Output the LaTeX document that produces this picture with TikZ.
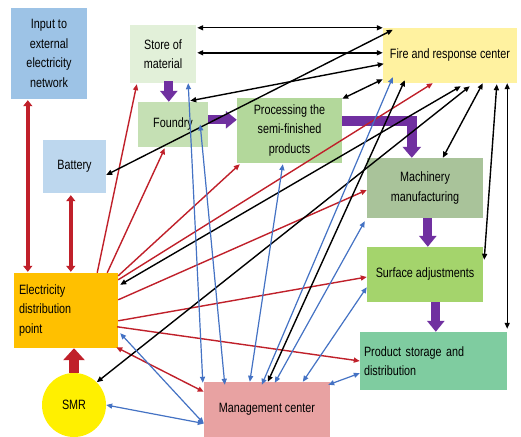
\documentclass[tikz,border=0pt]{standalone}
\usepackage{fontspec}
\setmainfont[FakeStretch=0.8]{Liberation Sans}
\usetikzlibrary{arrows.meta,calc}
\definecolor{cInp}{HTML}{9DC3E6}
\definecolor{cBat}{HTML}{BDD7EE}
\definecolor{cStore}{HTML}{E2F0D9}
\definecolor{cFound}{HTML}{C5E0B4}
\definecolor{cProc}{HTML}{B3D89B}
\definecolor{cFire}{HTML}{FFF2A0}
\definecolor{cMach}{HTML}{A9C39A}
\definecolor{cSurf}{HTML}{A4D46C}
\definecolor{cProd}{HTML}{7FCCA0}
\definecolor{cElec}{HTML}{FFC000}
\definecolor{cSmr}{HTML}{FFF000}
\definecolor{cMgmt}{HTML}{E8A2A2}
\definecolor{cPurp}{HTML}{7030A0}
\definecolor{cRed}{HTML}{C0202A}
\definecolor{cBlue}{HTML}{4472C4}
\tikzset{
  box/.style={inner sep=0pt, align=center, font=\fontsize{13.5}{19.5}\selectfont},
  lbox/.style={inner sep=0pt, align=left, font=\fontsize{13.5}{19.5}\selectfont},
  tip/.tip={Triangle[length=6pt,width=5pt]},
  redln/.style={draw=cRed, line width=1.4pt},
  blkln/.style={draw=black, line width=1.4pt},
  bluln/.style={draw=cBlue, line width=1.2pt},
  thickred/.style={draw=cRed, line width=3.5pt},
  bigtip/.tip={Triangle[length=6pt,width=9pt]},
  purp/.style={draw=cPurp, line width=9pt, -{Triangle[length=11pt,width=17pt]}},
}
\begin{document}
\begin{tikzpicture}[x=1pt,y=-1pt]
\useasboundingbox[fill=white] (0,0) rectangle (521,436);
% nodes
\node[box, fill=cInp, minimum width=76pt, minimum height=91pt] (inp) at (49,53.5) {Input to\\external\\electricity\\network};
\node[box, fill=cStore, minimum width=66pt, minimum height=58pt] (store) at (163,54) {Store of\\material};
\node[box, fill=cFound, minimum width=70pt, minimum height=45pt] (foundry) at (173,124.5) {Foundry};
\node[box, fill=cProc, minimum width=105pt, minimum height=65pt] (proc) at (289.5,130.5) {Processing the\\semi-finished\\products};
\node[box, fill=cFire, minimum width=134pt, minimum height=55pt] (fire) at (450,55.5) {Fire and response center};
\node[box, fill=cBat, minimum width=63pt, minimum height=53pt] (battery) at (74.5,166.5) {Battery};
\node[box, fill=cMach, minimum width=116pt, minimum height=60pt] (mach) at (425,188) {Machinery\\manufacturing};
\node[box, fill=cSurf, minimum width=116pt, minimum height=55pt] (surf) at (425,274.5) {Surface adjustments};
\node[lbox, fill=cElec, inner xsep=5pt, text width=94pt, minimum height=75pt] (elec) at (66,310.5) {Electricity\\distribution\\point};
\node[lbox, fill=cProd, inner xsep=4pt, text width=139pt, minimum height=58pt] (prod) at (433.5,361) {Product storage and\\distribution};
\node[box, circle, fill=cSmr, minimum size=64pt] (smr) at (74,405) {SMR};
\node[box, fill=cMgmt, minimum width=126pt, minimum height=55pt] (mgmt) at (267,409.5) {Management center};
% anchor points for the flow arrows
\coordinate (p1) at ($(store.south west)+(39,-2)$);
\coordinate (p2) at ($(foundry.north east)+(0,18)$);
\coordinate (p3) at ($(proc.north east)+(0,23)$);
\coordinate (p3b) at ($(mach.north west)+(45,0)$);
\coordinate (p4) at ($(mach.south west)+(61,0)$);
\coordinate (p5) at ($(surf.south west)+(69,0)$);
% purple flow arrows
\draw[purp] (p1) -- (p1 |- foundry.north);
\draw[purp] (p2) -- (p2 -| proc.west);
\draw[purp, line width=10pt, -{Triangle[length=11pt,width=18pt]}] (p3) -| (p3b);
\draw[purp] (p4) -- (p4 |- surf.north);
\draw[purp] (p5) -- (p5 |- prod.north);
% thick red
\draw[thickred, {bigtip}-{bigtip}] ($(inp.south west)+(17,1)$) -- ($(elec.north west)+(14,-1)$);
\draw[thickred, {bigtip}-{bigtip}] ($(battery.south west)+(28,2)$) -- ($(elec.north west)+(57,-1)$);
\draw[draw=cRed, line width=10pt, -{Triangle[length=12pt,width=21pt]}] (smr.north) -- (smr.north |- elec.south);
% thin red from electricity distribution point
\draw[redln, -{tip}] ($(elec.north east)+(-21,0)$) -- ($(store.south west)+(7,1)$);
\draw[redln, -{tip}] ($(elec.north east)+(-11,0)$) -- ($(foundry.south west)+(27,1)$);
\draw[redln, -{tip}] ($(elec.north east)+(0,3)$) -- ($(proc.south west)+(3,1)$);
\draw[redln, -{tip}] ($(elec.north east)+(0,7)$) -- ($(fire.south west)+(50,0)$);
\draw[redln, -{tip}] ($(elec.north east)+(0,27)$) -- ($(mach.west)+(0,2)$);
\draw[redln, -{tip}] ($(elec.north east)+(0,48)$) -- ($(surf.west)+(0,2.5)$);
\draw[redln, -{tip}] ($(elec.north east)+(-1,54)$) -- (prod.west);
\draw[redln, {tip}-{tip}] ($(elec.south east)+(-2,-1)$) -- ($(mgmt.north west)+(0,10)$);
% black links to fire and response center
\draw[blkln, {tip}-{tip}] ($(store.north east)+(1,3)$) -- ($(fire.north west)+(0,0)$);
\draw[blkln, {tip}-{tip}] ($(store.north east)+(1,28)$) -- ($(fire.north west)+(0,25)$);
\draw[blkln, {tip}-{tip}] ($(foundry.north east)+(-18,-1)$) -- ($(fire.north west)+(1,36)$);
\draw[blkln, {tip}-{tip}] ($(battery.east)+(0,8.5)$) -- ($(fire.north west)+(10,2)$);
\draw[blkln, {tip}-{tip}] ($(proc.north east)+(0,1)$) -- ($(fire.south west)+(0,-4)$);
\draw[blkln, {tip}-{tip}] ($(elec.north east)+(2,12)$) -- ($(fire.south west)+(78,3)$);
\draw[blkln, {tip}-{tip}] (smr.45) -- ($(fire.south west)+(87,3)$);
\draw[blkln, {tip}-{tip}] ($(mgmt.north west)+(64,0)$) -- ($(fire.south west)+(22,-3)$);
\draw[blkln, {tip}-{tip}] ($(fire.south west)+(100,0)$) -- ($(mach.north west)+(76,0)$);
\draw[blkln, {tip}-{tip}] ($(fire.south west)+(114,1)$) -- ($(surf.north east)+(1,13)$);
\draw[blkln, {tip}-{tip}] ($(fire.south east)+(-10,0)$) -- ($(prod.north east)+(0,-3)$);
% blue links to management center
\draw[bluln, {tip}-{tip}] ($(store.south east)+(-8,0)$) -- ($(mgmt.north west)+(-1,1)$);
\draw[bluln, {tip}-{tip}] ($(foundry.east)+(-8,0)$) -- ($(mgmt.north west)+(21,3)$);
\draw[bluln, {tip}-{tip}] ($(proc.south west)+(46,1)$) -- ($(mgmt.north west)+(46,0)$);
\draw[bluln, {tip}-{tip}] ($(fire.south west)+(10,-6)$) -- ($(mgmt.north west)+(58,3)$);
\draw[bluln, {tip}-{tip}] ($(mach.south west)+(-2,3)$) -- ($(mgmt.north west)+(71,1)$);
\draw[bluln, {tip}-{tip}] ($(surf.south west)+(0,-15)$) -- ($(mgmt.north west)+(99,0)$);
\draw[bluln, {tip}-{tip}] ($(prod.south west)+(0,-17)$) -- ($(mgmt.north east)+(-2,3)$);
\draw[bluln, {tip}-{tip}] ($(elec.south east)+(2,-15)$) -- ($(mgmt.west)+(0,14)$);
\draw[bluln, {tip}-{tip}] (smr.east) -- ($(mgmt.west)+(0,14)$);
\end{tikzpicture}
\end{document}
